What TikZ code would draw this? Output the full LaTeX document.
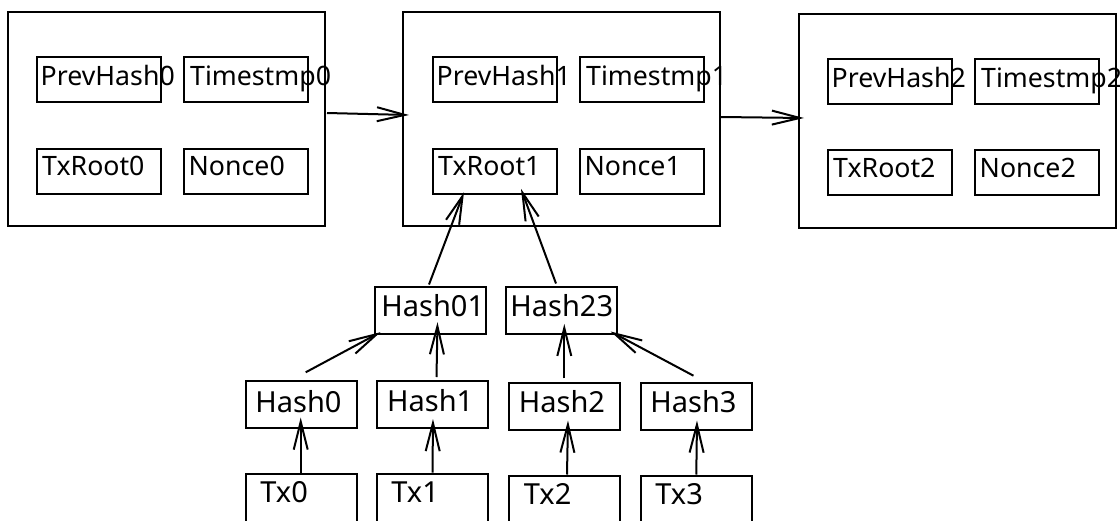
\documentclass[tikz,border=0pt]{standalone}
\usepackage{fontspec}
\setmainfont{Noto Sans}
\usetikzlibrary{arrows.meta,calc}
\begin{document}
\begin{tikzpicture}[x=1pt,y=-1pt,
  blk/.style={draw, line width=2pt, inner sep=0pt, minimum width=317pt, minimum height=214pt},
  ibox/.style={draw, line width=2pt, inner sep=0pt, minimum width=124pt, minimum height=45pt},
  tbox/.style={draw, line width=2pt, inner sep=0pt, minimum width=111pt, minimum height=47pt},
  txbox/.style={draw, line width=2pt, inner sep=0pt, minimum width=111pt, minimum height=70pt},
  btxt/.style={inner sep=0pt, anchor=base west, font=\fontsize{26.7}{31}\selectfont},
  ttxt/.style={inner sep=0pt, anchor=base west, font=\fontsize{29}{34}\selectfont},
  arr/.style={line width=2pt, -{Straight Barb[length=28pt,width=14pt]}}
]
\clip (0,0) rectangle (1120,520);
\fill[white] (0,0) rectangle (1120,520);

% blocks
\node[blk] (b0) at (166.5,119) {};
\node[blk] (b1) at (561.5,119) {};
\node[blk] (b2) at (957.5,121) {};

% block 0
\node[ibox] (ph0) at (99,79.5) {};
\node[ibox] (ts0) at (246,79.5) {};
\node[ibox] (tr0) at (99,171) {};
\node[ibox] (n0) at (246,171) {};
\node[btxt] (ph0t) at ($(ph0.north west)+(4.5,29.5)$) {PrevHash0};
\node[btxt] (ts0t) at ($(ts0.north west)+(7,29.5)$) {Timestmp0};
\node[btxt] (tr0t) at ($(tr0.north west)+(6,28.4)$) {TxRoot0};
\node[btxt] (n0t) at ($(n0.north west)+(5.5,28.4)$) {Nonce0};

% block 1
\node[ibox] (ph1) at (495,79.5) {};
\node[ibox] (ts1) at (642,79.5) {};
\node[ibox] (tr1) at (495,171) {};
\node[ibox] (n1) at (642,171) {};
\node[btxt] (ph1t) at ($(ph1.north west)+(4.5,29.5)$) {PrevHash1};
\node[btxt] (ts1t) at ($(ts1.north west)+(7,29.5)$) {Timestmp1};
\node[btxt] (tr1t) at ($(tr1.north west)+(6,28.4)$) {TxRoot1};
\node[btxt] (n1t) at ($(n1.north west)+(5.5,28.4)$) {Nonce1};

% block 2
\node[ibox] (ph2) at (890,81.5) {};
\node[ibox] (ts2) at (1037,81.5) {};
\node[ibox] (tr2) at (890,172.5) {};
\node[ibox] (n2) at (1037,172.5) {};
\node[btxt] (ph2t) at ($(ph2.north west)+(4.5,29.5)$) {PrevHash2};
\node[btxt] (ts2t) at ($(ts2.north west)+(7,29.5)$) {Timestmp2};
\node[btxt] (tr2t) at ($(tr2.north west)+(6,28.4)$) {TxRoot2};
\node[btxt] (n2t) at ($(n2.north west)+(5.5,28.4)$) {Nonce2};

% tree
\node[tbox] (h01) at (430.5,310) {};
\node[tbox] (h23) at (561.5,310) {};
\node[tbox] (h0) at (301,404.5) {};
\node[tbox] (h1) at (432,404.5) {};
\node[tbox] (h2) at (564,406.5) {};
\node[tbox] (h3) at (696,406.5) {};
\node[txbox] (tx0) at (301,508.5) {};
\node[txbox] (tx1) at (432,508.5) {};
\node[txbox] (tx2) at (564,510.5) {};
\node[txbox] (tx3) at (696,510.5) {};

\node[ttxt] (h01t) at ($(h01.north west)+(7.2,31.3)$) {Hash01};
\node[ttxt] (h23t) at ($(h23.north west)+(5.2,31)$) {Hash23};
\node[ttxt] (h0t) at ($(h0.north west)+(10.7,32)$) {Hash0};
\node[ttxt] (h1t) at ($(h1.north west)+(11.4,31)$) {Hash1};
\node[ttxt] (h2t) at ($(h2.north west)+(11.2,30.3)$) {Hash2};
\node[ttxt] (h3t) at ($(h3.north west)+(10.7,30)$) {Hash3};
\node[ttxt] (tx0t) at ($(tx0.north west)+(15.7,29.8)$) {Tx0};
\node[ttxt] (tx1t) at ($(tx1.north west)+(15.7,29.5)$) {Tx1};
\node[ttxt] (tx2t) at ($(tx2.north west)+(16.2,29.5)$) {Tx2};
\node[ttxt] (tx3t) at ($(tx3.north west)+(15.7,29.5)$) {Tx3};

% connectors
\draw[arr] ($(b0.east)+(1,-6)$) -- ($(b1.west)+(7,-4)$);
\draw[arr] ($(b1.east)+(0,-2)$) -- ($(b2.west)+(6,-3)$);

\draw[arr] ($(tx0.north)+(-0.3,0)$) -- ($(h0.south)+(-0.3,-11.5)$);
\draw[arr] ($(tx1.north)+(0.5,0)$) -- ($(h1.south)+(1,-10)$);
\draw[arr] ($(tx2.north)+(3,0)$) -- ($(h2.south)+(4,-10.5)$);
\draw[arr] ($(tx3.north)+(0.3,0)$) -- ($(h3.south)+(1,-10.5)$);

\draw[arr] ($(h0.north)+(4.7,-7.7)$) -- ($(h01.south west)+(6.4,-2.3)$);
\draw[arr] ($(h1.north)+(4.5,-3)$) -- ($(h01.south)+(7,-12.3)$);
\draw[arr] ($(h2.north)+(0.3,-3.7)$) -- ($(h23.south)+(2.8,-10.7)$);
\draw[arr] ($(h3.north)+(-2.5,-6.3)$) -- ($(h23.south east)+(-7.4,-3)$);

\draw[arr] ($(h01.north)+(-1.5,-1)$) -- ($(tr1.south)+(-31,-2.3)$);
\draw[arr] ($(h23.north)+(-5.5,-2)$) -- ($(tr1.south)+(26,-5.7)$);
\end{tikzpicture}
\end{document}
